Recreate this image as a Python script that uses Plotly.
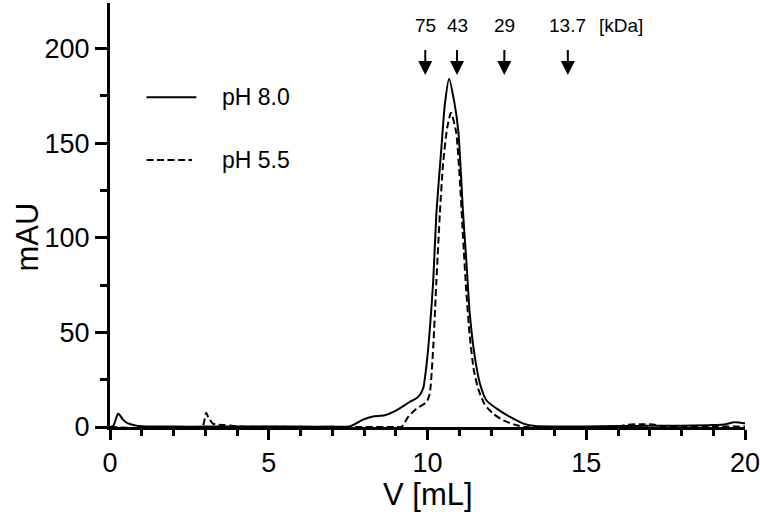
import plotly.graph_objects as go

# pH 8.0 trace (solid)
v_ph80 = [0, 0.1, 0.2, 0.25, 0.3, 0.4, 0.55, 0.8, 1.0, 2, 3, 4, 5, 6, 7, 7.55, 7.97, 8.28, 8.65,
          9.02, 9.44, 9.70, 9.86, 9.97, 10.07, 10.18, 10.28, 10.44, 10.55, 10.68, 10.84, 10.97,
          11.12, 11.23, 11.33, 11.49, 11.65, 11.86, 12.18, 12.6, 13.02, 13.4, 14, 15, 16, 17,
          18, 19, 19.4, 19.65, 19.85, 20]
mau_ph80 = [0, 0.5, 5, 7, 6.5, 4, 2, 0.8, 0.4, 0.2, 0.2, 0.2, 0.2, 0.2, 0.2, 0.3, 3.9, 5.6, 6.2,
            8.8, 13.2, 15.8, 20.2, 33, 51, 77, 113, 148, 171, 184, 172, 156.5,
            113, 86, 60, 37, 23, 14, 9.7, 5.3, 1.8, 0.5, 0.3, 0.3, 0.5, 0.6,
            0.7, 1.0, 1.5, 2.5, 2.3, 2.0]

# pH 5.5 trace (dashed)
v_ph55 = [0, 2.9, 2.98, 3.03, 3.1, 3.24, 3.4, 3.6, 3.8, 4.0, 5, 7, 9.0, 9.18, 9.39, 9.65, 9.97,
          10.07, 10.18, 10.28, 10.39, 10.49, 10.62, 10.74, 10.9, 11.02, 11.12, 11.22, 11.33,
          11.46, 11.6, 11.8, 12.07, 12.39, 12.81, 13.1, 14, 15, 16, 16.3, 16.7, 17.1, 17.4,
          18, 19, 20]
mau_ph55 = [0, 0, 4, 7.5, 5, 1.8, 1.2, 1.0, 0.8, 0.3, 0.1, 0, 0, 0, 5.3, 9.7, 13.2,
            17.6, 42, 77, 113, 139, 158, 166, 156, 130, 100, 72, 48,
            30, 20, 12, 7, 3.5, 0.9, 0, 0, 0, 0.3, 1.2, 1.5, 1.3, 0.5,
            0.2, 0.2, 0.2]

# molecular weight markers
marker_v = [9.93, 10.93, 12.42, 14.42]
marker_labels = ["75", "43", "29", "13.7"]
unit_label = "[kDa]"
unit_v = 16.08

series_names = ["pH 8.0", "pH 5.5"]
x_title = "V [mL]"
y_title = "mAU"

FONT = "Liberation Sans, Arial, sans-serif"

fig = go.Figure()
fig.add_trace(go.Scatter(x=v_ph80, y=mau_ph80, mode="lines", name=series_names[0],
                         line=dict(color="black", width=2, shape="spline", smoothing=0.6),
                         showlegend=False))
fig.add_trace(go.Scatter(x=v_ph55, y=mau_ph55, mode="lines", name=series_names[1],
                         line=dict(color="black", width=2, dash="7px,3.5px", shape="spline", smoothing=0.6),
                         showlegend=False))

annotations = []
for v, lab in zip(marker_v, marker_labels):
    annotations.append(dict(x=v, y=186, ax=v, ay=200, xref="x", yref="y", axref="x", ayref="y",
                            text="", showarrow=True, arrowhead=2, arrowsize=1.4, arrowwidth=2,
                            arrowcolor="black"))
    annotations.append(dict(x=v, y=212, xref="x", yref="y", text=lab, showarrow=False,
                            font=dict(size=19, color="black", family=FONT)))
annotations.append(dict(x=unit_v, y=212, xref="x", yref="y", text=unit_label, showarrow=False,
                        font=dict(size=19, color="black", family=FONT)))

# axis titles
annotations.append(dict(x=0.5, y=-0.160, xref="paper", yref="paper", text=x_title,
                        showarrow=False, xanchor="center", yanchor="middle",
                        font=dict(size=31, color="black", family=FONT)))
annotations.append(dict(x=-0.130, y=0.448, xref="paper", yref="paper", text=y_title,
                        showarrow=False, xanchor="center", yanchor="middle", textangle=-90,
                        font=dict(size=31, color="black", family=FONT)))

# manual legend
leg_y = [0.778, 0.630]
leg_dash = ["solid", "7px,3.5px"]
shapes = []
for name, yy, d, x1 in zip(series_names, leg_y, leg_dash, [0.136, 0.129]):
    shapes.append(dict(type="line", xref="paper", yref="paper", x0=0.0575, x1=x1, y0=yy, y1=yy,
                       line=dict(color="black", width=2, dash=d)))
    annotations.append(dict(x=0.1726, y=yy, xref="paper", yref="paper", text=name,
                            showarrow=False, xanchor="left", yanchor="middle",
                            font=dict(size=23, color="black", family=FONT)))

fig.update_layout(
    width=760, height=520,
    margin=dict(l=110, r=15, t=3, b=93, autoexpand=False),
    paper_bgcolor="white", plot_bgcolor="white",
    font=dict(family=FONT, color="black"),
    annotations=annotations, shapes=shapes,
    showlegend=False,
)
fig.update_xaxes(range=[0, 20.0001], tickvals=[0, 5, 10, 15, 20], showgrid=False, zeroline=False,
                 showline=True, linecolor="black", linewidth=3, automargin=False,
                 ticklabeloverflow="allow",
                 ticks="outside", ticklen=10, tickwidth=3, tickcolor="black",
                 minor=dict(tickvals=list(range(0, 21)), ticklen=6, tickwidth=3,
                            tickcolor="black", ticks="outside"),
                 tickfont=dict(size=27, family=FONT))
fig.update_yaxes(range=[0, 224], dtick=50, tick0=0, showgrid=False, zeroline=False,
                 showline=True, linecolor="black", linewidth=3, automargin=False,
                 ticklabeloverflow="allow",
                 ticks="outside", ticklen=12, tickwidth=3, tickcolor="black",
                 minor=dict(dtick=25, ticklen=7, tickwidth=3, tickcolor="black", ticks="outside"),
                 tickfont=dict(size=27, family=FONT))

fig.write_html("out.html", config={"displayModeBar": False},
               post_script="document.body.style.margin='0';document.body.style.overflow='hidden';")
